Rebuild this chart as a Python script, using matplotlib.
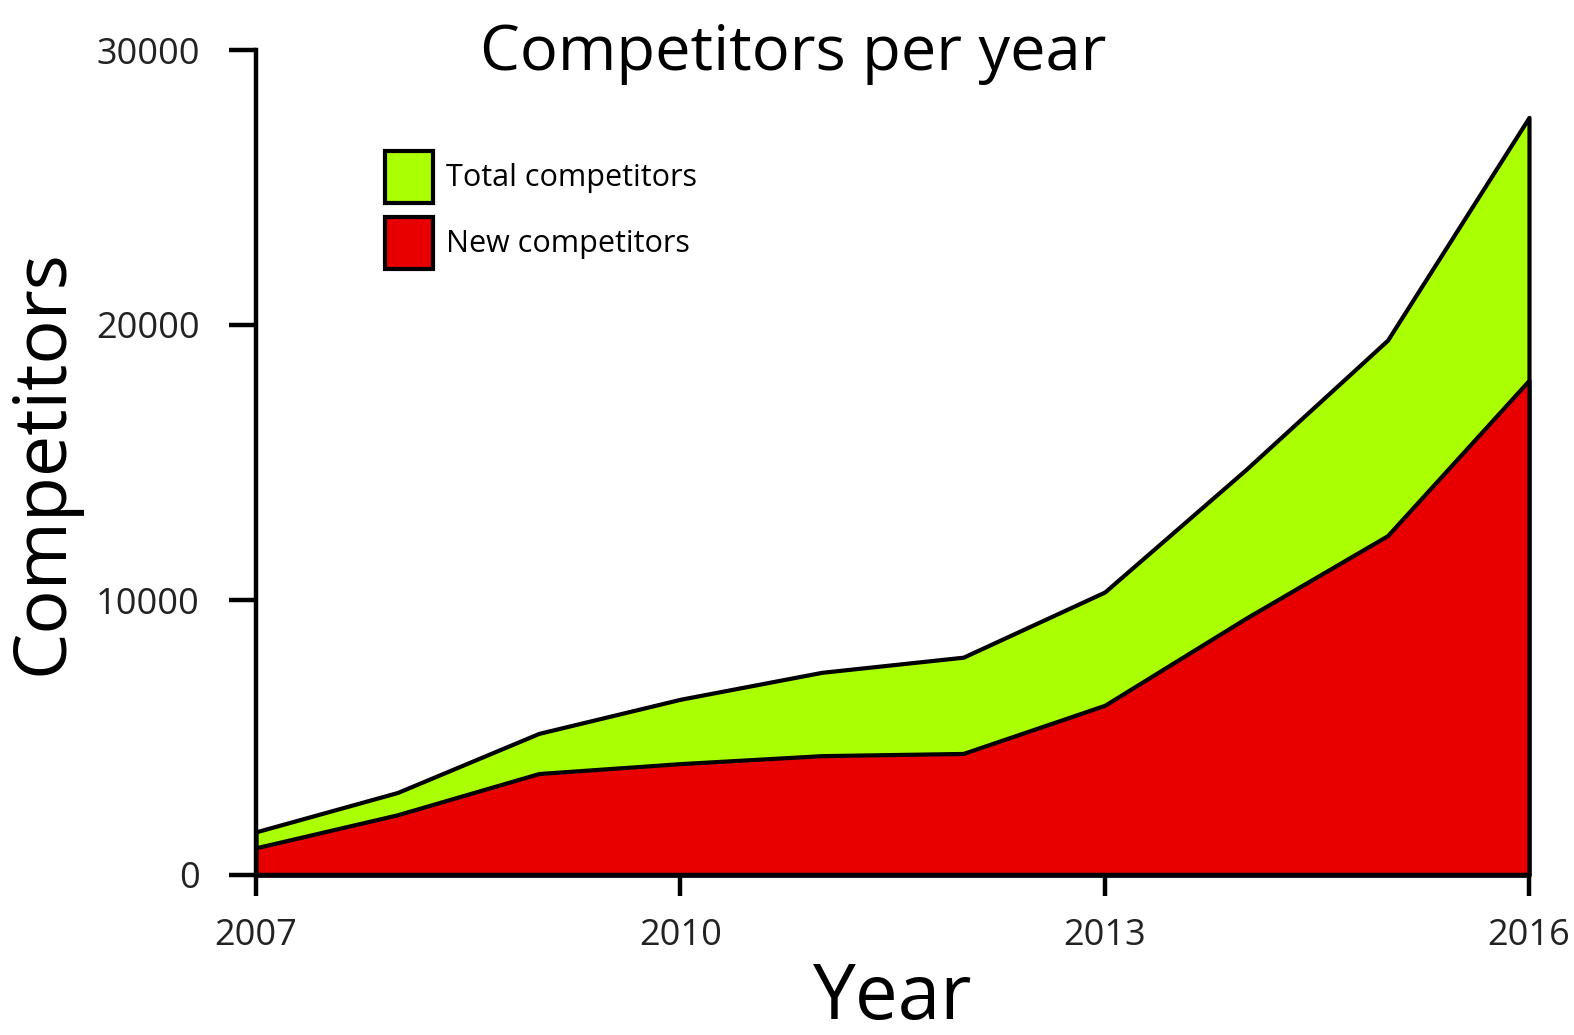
import matplotlib
matplotlib.use('Agg')
import matplotlib.pyplot as plt

# values
years = [2007, 2008, 2009, 2010, 2011, 2012, 2013, 2014, 2015, 2016]
total_competitors = [1570, 3000, 5150, 6390, 7370, 7920, 10290, 14750, 19450, 27550]
new_competitors = [990, 2190, 3690, 4050, 4340, 4420, 6170, 9340, 12340, 17990]
x_ticks = [2007, 2010, 2013, 2016]
y_ticks = [0, 10000, 20000, 30000]

plt.rcParams['font.family'] = ['Open Sans', 'DejaVu Sans']

fig = plt.figure(figsize=(15.74, 10.35), dpi=100)
ax = fig.add_axes([256 / 1574, 1 - 875 / 1035, 1273 / 1574, 825 / 1035])

# total drawn first, new in front of it
ax.fill_between(years, total_competitors, facecolor='#AAFF00', edgecolor='black',
                linewidth=3, label='Total competitors', clip_on=False, zorder=2)
ax.fill_between(years, new_competitors, facecolor='#E80000', edgecolor='black',
                linewidth=3, label='New competitors', clip_on=False, zorder=3)

ax.set_xlim(2007, 2016)
ax.set_ylim(0, 30000)
ax.set_xticks(x_ticks)
ax.set_yticks(y_ticks)

# only left and bottom spines
for side in ['top', 'right']:
    ax.spines[side].set_visible(False)
for side in ['left', 'bottom']:
    ax.spines[side].set_linewidth(3.2)
    ax.spines[side].set_zorder(5)
ax.tick_params(axis='both', width=3.2, labelsize=26, labelcolor='#222222')
ax.tick_params(axis='y', length=19.5, pad=21)
ax.tick_params(axis='x', length=15, pad=16)

ax.set_xlabel('Year', fontsize=55, labelpad=5)
ax.set_ylabel('Competitors', fontsize=53, labelpad=11)
fig.text(0.504, 0.978, 'Competitors per year', fontsize=45.5, ha='center', va='top')

leg = ax.legend(loc='upper left', bbox_to_anchor=(0.1017, 0.878), frameon=False, fontsize=22,
                borderpad=0, borderaxespad=0, handlelength=1.55, handleheight=2.25,
                handletextpad=0.42, labelspacing=0.45)
for h in leg.legend_handles:
    h.set_linewidth(3)

plt.savefig('out.png', dpi=100)
